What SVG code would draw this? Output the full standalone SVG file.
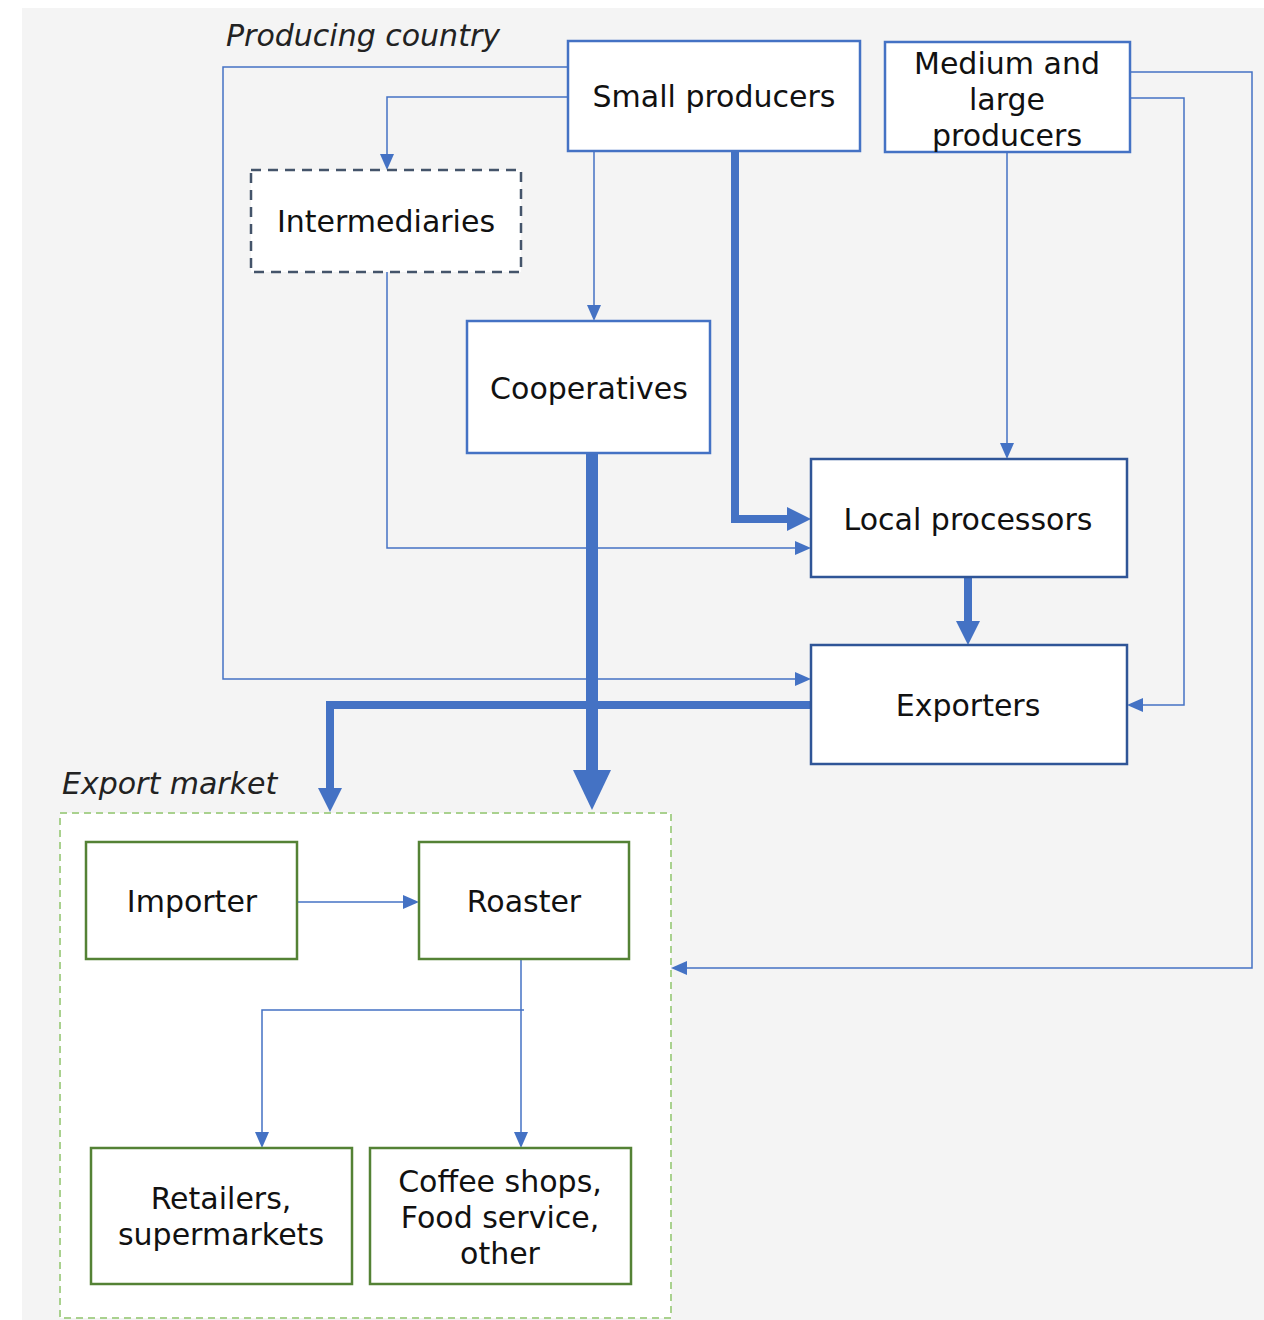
<svg xmlns="http://www.w3.org/2000/svg" width="1264" height="1320" viewBox="0 0 1264 1320">
<style>
  .lbl{font-family:"DejaVu Sans","Verdana",sans-serif;font-size:30px;fill:#111;text-anchor:middle}
  .ital{font-family:"DejaVu Sans","Verdana",sans-serif;font-size:30px;font-style:italic;fill:#222}
  .nb{fill:#fff;stroke:#4472c4;stroke-width:2.5}
  .nd{fill:#fff;stroke:#2f5597;stroke-width:2.5}
  .ng{fill:#fff;stroke:#548235;stroke-width:2.5}
  .thin{fill:none;stroke:#4472c4;stroke-width:1.5}
  .thick{fill:none;stroke:#4472c4;stroke-width:8}
  .big{fill:none;stroke:#4472c4;stroke-width:12}
</style>
<defs>
  <marker id="ah" markerUnits="userSpaceOnUse" markerWidth="16" markerHeight="14" refX="0" refY="7" orient="auto">
    <path d="M0,0 L16,7 L0,14 z" fill="#4472c4"/>
  </marker>
  <marker id="ahm" markerUnits="userSpaceOnUse" markerWidth="24" markerHeight="24" refX="0" refY="12" orient="auto">
    <path d="M0,0 L24,12 L0,24 z" fill="#4472c4"/>
  </marker>
  <marker id="ahb" markerUnits="userSpaceOnUse" markerWidth="40" markerHeight="38" refX="0" refY="19" orient="auto">
    <path d="M0,0 L40,19 L0,38 z" fill="#4472c4"/>
  </marker>
</defs>
<rect x="0" y="0" width="1264" height="1320" fill="#ffffff"/>
<rect x="22" y="8" width="1242" height="1312" fill="#f4f4f4"/>
<text class="ital" x="226" y="46">Producing country</text>
<g id="export-market">
  <rect x="60" y="813" width="611" height="505" fill="#ffffff" stroke="#a9d18e" stroke-width="2" stroke-dasharray="7,5"/>
  <text class="ital" x="62" y="794">Export market</text>
</g>
<g id="connectors">
  <path class="thin" d="M568,67 H223 V679 H795" marker-end="url(#ah)"/>
  <path class="thin" d="M568,97 H387 V154" marker-end="url(#ah)"/>
  <path class="thin" d="M594,151 V305" marker-end="url(#ah)"/>
  <path class="thin" d="M387,272 V548 H795" marker-end="url(#ah)"/>
  <path class="thin" d="M1007,152 V443" marker-end="url(#ah)"/>
  <path class="thin" d="M1130,98 H1184 V705 H1143" marker-end="url(#ah)"/>
  <path class="thin" d="M1130,72 H1252 V968 H687" marker-end="url(#ah)"/>
  <path class="thin" d="M297,902 H403" marker-end="url(#ah)"/>
  <path class="thin" d="M521,959 V1132" marker-end="url(#ah)"/>
  <path class="thin" d="M524,1010 H262 V1132" marker-end="url(#ah)"/>
  <path class="thick" d="M735,151 V519 H787" marker-end="url(#ahm)"/>
  <path class="thick" d="M968,577 V621" marker-end="url(#ahm)"/>
  <path class="thick" d="M811,705 H330 V788" marker-end="url(#ahm)"/>
  <path class="big" d="M592,453 V770" marker-end="url(#ahb)"/>
</g>
<g id="small-producers">
  <rect class="nb" x="568" y="41" width="292" height="110"/>
  <text class="lbl" x="714" y="107">Small producers</text>
</g>
<g id="medium-large-producers">
  <rect class="nb" x="885" y="42" width="245" height="110"/>
  <text class="lbl" x="1007" y="74">Medium and</text>
  <text class="lbl" x="1007" y="110">large</text>
  <text class="lbl" x="1007" y="146">producers</text>
</g>
<g id="intermediaries">
  <rect x="251" y="170" width="270" height="102" fill="#fff" stroke="#44546a" stroke-width="2.5" stroke-dasharray="10,7"/>
  <text class="lbl" x="386" y="232">Intermediaries</text>
</g>
<g id="cooperatives">
  <rect class="nb" x="467" y="321" width="243" height="132"/>
  <text class="lbl" x="589" y="399">Cooperatives</text>
</g>
<g id="local-processors">
  <rect class="nd" x="811" y="459" width="316" height="118"/>
  <text class="lbl" x="968" y="530">Local processors</text>
</g>
<g id="exporters">
  <rect class="nd" x="811" y="645" width="316" height="119"/>
  <text class="lbl" x="968" y="716">Exporters</text>
</g>
<g id="importer">
  <rect class="ng" x="86" y="842" width="211" height="117"/>
  <text class="lbl" x="192" y="912">Importer</text>
</g>
<g id="roaster">
  <rect class="ng" x="419" y="842" width="210" height="117"/>
  <text class="lbl" x="524" y="912">Roaster</text>
</g>
<g id="retailers">
  <rect class="ng" x="91" y="1148" width="261" height="136"/>
  <text class="lbl" x="221" y="1209">Retailers,</text>
  <text class="lbl" x="221" y="1245">supermarkets</text>
</g>
<g id="coffee-shops">
  <rect class="ng" x="370" y="1148" width="261" height="136"/>
  <text class="lbl" x="500" y="1192">Coffee shops,</text>
  <text class="lbl" x="500" y="1228">Food service,</text>
  <text class="lbl" x="500" y="1264">other</text>
</g>
</svg>
